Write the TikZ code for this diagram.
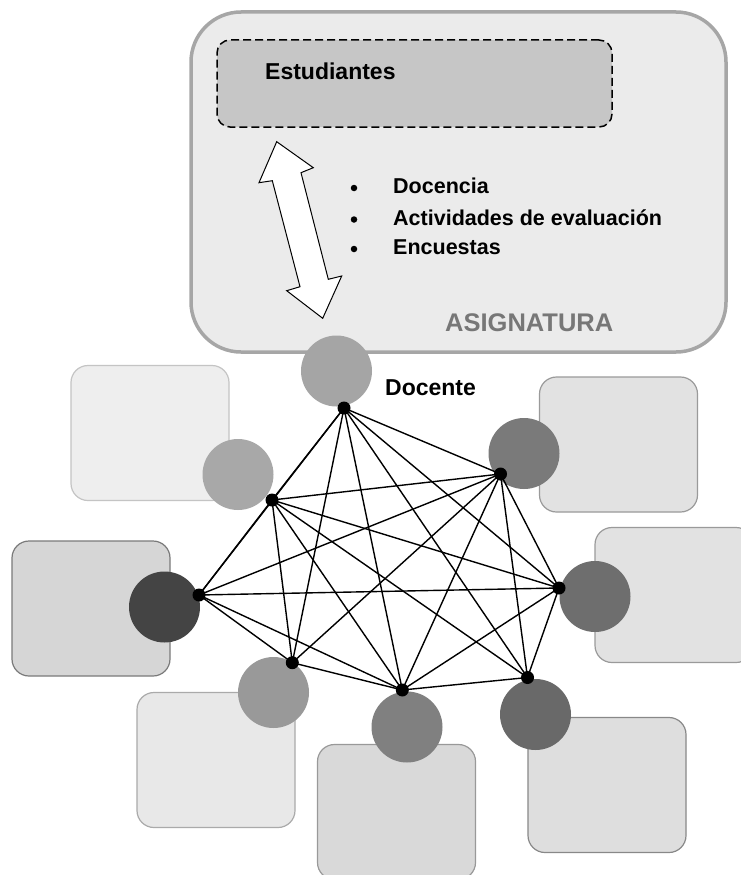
\documentclass[tikz,border=0pt]{standalone}
\usepackage{fontspec}
\setmainfont{Liberation Sans}
\definecolor{boxfill}{HTML}{EBEBEB}
\definecolor{boxline}{HTML}{A6A6A6}
\definecolor{estfill}{HTML}{C6C6C6}
\definecolor{asig}{HTML}{777777}
\begin{document}
\begin{tikzpicture}[x=1pt,y=-1pt,
  sqbox/.style={rounded corners=17pt, minimum width=158pt, minimum height=135pt, inner sep=0pt, line width=1.2pt},
  ball/.style={circle, minimum size=71pt, inner sep=0pt},
  dotn/.style={circle, fill=black, minimum size=13pt, inner sep=0pt},
  link/.style={line width=1.4pt, black},
  bul/.style={circle, fill=black, minimum size=6.5pt, inner sep=0pt},
  lbl/.style={anchor=base west, inner sep=0pt, text=black},
  fbig/.style={font=\fontsize{23}{27}\selectfont\bfseries},
  fmid/.style={font=\fontsize{21.5}{25}\selectfont\bfseries}
]
\useasboundingbox (0,0) rectangle (741,875);
\fill[white] (0,0) rectangle (741,875);

% outer box ASIGNATURA
\node[draw=boxline, fill=boxfill, line width=3.5pt, rounded corners=50pt,
      minimum width=535pt, minimum height=340pt, inner sep=0pt] (asigbox) at (458.5,182) {};
\node[draw=black, fill=estfill, line width=1.5pt, dash pattern=on 8pt off 4pt, rounded corners=13pt,
      minimum width=395pt, minimum height=87pt, inner sep=0pt] (estbox) at (414.5,83.5) {};
\node[lbl, fbig] (est) at (265,79) {Estudiantes};

% double arrow
\draw[fill=white, line width=1pt, line join=miter]
  (276.7,141.7) -- (313.3,167.7) -- (301,172.7) -- (328.3,279.3) -- (341.7,276)
  -- (322.7,318.3) -- (286.7,290.7) -- (300,286.7) -- (272.3,180.7) -- (259,182.7) -- cycle;

% bullets
\node[bul] (b1) at (354,188) {};
\node[bul] (b2) at (354,219.5) {};
\node[bul] (b3) at (354,249) {};
\node[lbl, fmid] (t1) at (393,193) {Docencia};
\node[lbl, fmid] (t2) at (393,225.5) {Actividades de evaluación};
\node[lbl, fmid] (t3) at (393,254.5) {Encuestas};
\node[lbl, font=\fontsize{25.5}{30}\selectfont\bfseries, text=asig] (asiglbl) at (445,331) {ASIGNATURA};

% squares
\node[sqbox, fill={rgb,255:red,238;green,238;blue,238}, draw={rgb,255:red,196;green,196;blue,196}] (s1) at (150,433) {};
\node[sqbox, fill={rgb,255:red,226;green,226;blue,226}, draw={rgb,255:red,154;green,154;blue,154}] (s2) at (618.5,444.5) {};
\node[sqbox, fill={rgb,255:red,214;green,214;blue,214}, draw={rgb,255:red,122;green,122;blue,122}] (s3) at (91,608.5) {};
\node[sqbox, fill={rgb,255:red,226;green,226;blue,226}, draw={rgb,255:red,154;green,154;blue,154}] (s4) at (674,595) {};
\node[sqbox, fill={rgb,255:red,232;green,232;blue,232}, draw={rgb,255:red,170;green,170;blue,170}] (s5) at (216,760) {};
\node[sqbox, fill={rgb,255:red,217;green,217;blue,217}, draw={rgb,255:red,153;green,153;blue,153}] (s6) at (396.5,812) {};
\node[sqbox, fill={rgb,255:red,222;green,222;blue,222}, draw={rgb,255:red,136;green,136;blue,136}] (s7) at (607,785) {};

% circles
\node[ball, fill={rgb,255:red,165;green,165;blue,165}] (c1) at (336.5,371) {};
\node[ball, fill={rgb,255:red,168;green,168;blue,168}] (c2) at (238,474.5) {};
\node[ball, fill={rgb,255:red,122;green,122;blue,122}] (c3) at (524,453.5) {};
\node[ball, fill={rgb,255:red,68;green,68;blue,68}] (c4) at (164.5,607) {};
\node[ball, fill={rgb,255:red,110;green,110;blue,110}] (c5) at (595,596.5) {};
\node[ball, fill={rgb,255:red,153;green,153;blue,153}] (c6) at (273.5,692.5) {};
\node[ball, fill={rgb,255:red,128;green,128;blue,128}] (c7) at (407,727) {};
\node[ball, fill={rgb,255:red,105;green,105;blue,105}] (c8) at (535.5,714.5) {};

\node[lbl, fbig] (doc) at (385,395) {Docente};

% network points
\coordinate (p1) at (344,408);
\coordinate (p2) at (272,500);
\coordinate (p3) at (500.5,474);
\coordinate (p4) at (199,595);
\coordinate (p5) at (559,588);
\coordinate (p6) at (292.3,662.7);
\coordinate (p7) at (402.3,690);
\coordinate (p8) at (527.5,677.5);

\foreach \a/\b in {1/2,1/3,1/4,1/5,1/6,1/7,1/8,
                   2/3,2/4,2/5,2/6,2/7,2/8,
                   3/4,3/5,3/6,3/7,3/8,
                   4/5,4/6,4/7,
                   5/7,5/8,
                   6/7,
                   7/8}
  \draw[link] (p\a) -- (p\b);

\foreach \i in {1,...,8}
  \node[dotn] (d\i) at (p\i) {};
\end{tikzpicture}
\end{document}
